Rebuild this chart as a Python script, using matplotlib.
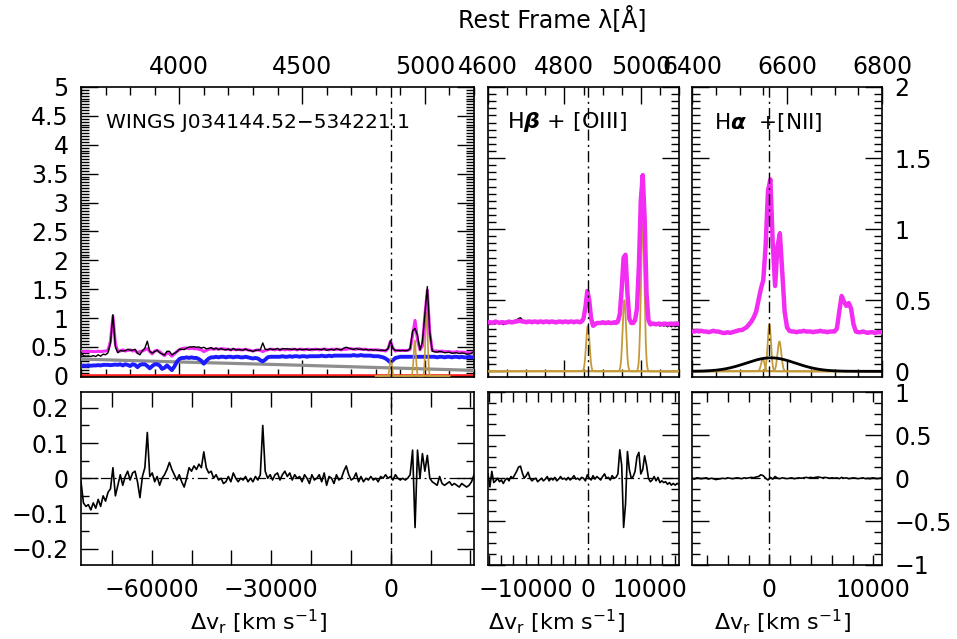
import numpy as np
import matplotlib
matplotlib.use("Agg")
import matplotlib.pyplot as plt
from matplotlib.ticker import MultipleLocator, FuncFormatter

plt.rcParams["font.family"] = ["DejaVu Sans"]
plt.rcParams["mathtext.fontset"] = "dejavusans"
plt.rcParams["mathtext.default"] = "regular"
plt.rcParams["axes.unicode_minus"] = True

C_KMS = 299792.458
HBETA = 4861.33
HALPHA = 6562.80

# ---------------------------------------------------------------- full spectrum
wave_full = np.arange(3600, 5201, 10)
model_full = [
    0.42, 0.42, 0.42, 0.42, 0.425, 0.42, 0.42, 0.425, 0.42, 0.425,
    0.43, 0.44, 0.60, 1.03, 0.55, 0.42, 0.43, 0.45, 0.43, 0.44,
    0.45, 0.43, 0.44, 0.40, 0.42, 0.43, 0.45, 0.47, 0.42, 0.38,
    0.43, 0.44, 0.42, 0.38, 0.35, 0.40, 0.38, 0.34, 0.38, 0.42,
    0.45, 0.47, 0.48, 0.48, 0.47, 0.48, 0.47, 0.47, 0.46, 0.45,
    0.42, 0.44, 0.46, 0.47, 0.46, 0.47, 0.46, 0.47, 0.47, 0.46,
    0.46, 0.45, 0.46, 0.45, 0.46, 0.45, 0.45, 0.46, 0.45, 0.44,
    0.43, 0.44, 0.45, 0.44, 0.42, 0.44, 0.45, 0.46, 0.46, 0.45,
    0.46, 0.45, 0.46, 0.45, 0.46, 0.45, 0.46, 0.46, 0.45, 0.46,
    0.46, 0.45, 0.46, 0.46, 0.45, 0.46, 0.46, 0.45, 0.46, 0.46,
    0.46, 0.45, 0.46, 0.46, 0.46, 0.46, 0.45, 0.46, 0.46, 0.47,
    0.47, 0.46, 0.46, 0.47, 0.46, 0.46, 0.46, 0.45, 0.45, 0.45,
    0.45, 0.45, 0.44, 0.44, 0.43, 0.47, 0.60, 0.48, 0.43, 0.44,
    0.44, 0.44, 0.44, 0.44, 0.46, 0.70, 0.96, 0.62, 0.45, 0.52,
    1.05, 1.48, 0.75, 0.44, 0.43, 0.43, 0.42, 0.43, 0.42, 0.42,
    0.42, 0.41, 0.41, 0.42, 0.41, 0.41, 0.41, 0.40, 0.40, 0.40,
    0.41,
]
resid_full = [
    -0.01, -0.07, -0.08, -0.075, -0.09, -0.07, -0.085, -0.06, -0.08, -0.05,
    -0.065, -0.04, -0.03, 0.03, -0.05, -0.02, 0.01, -0.02, 0.005, 0.02,
    -0.005, 0.015, 0.02, -0.01, -0.055, 0.005, 0.03, 0.13, 0.005, 0.015,
    -0.01, 0.005, -0.02, 0.0, 0.01, 0.025, 0.045, 0.025, 0.01, -0.005,
    0.01, -0.01, -0.025, 0.0, 0.03, 0.02, 0.035, 0.025, 0.04, 0.03,
    0.075, 0.03, 0.015, 0.02, 0.0, 0.01, -0.005, 0.0, -0.015, -0.01,
    0.005, -0.01, 0.015, 0.0, -0.01, 0.0, -0.005, 0.005, -0.01, 0.0,
    -0.01, 0.005, -0.005, 0.01, 0.15, 0.02, 0.0, 0.01, -0.005, 0.01,
    0.015, -0.005, 0.01, 0.02, 0.005, 0.015, -0.005, 0.01, 0.0, 0.005,
    -0.01, 0.01, 0.0, -0.015, 0.01, -0.005, 0.0, 0.01, -0.01, 0.015,
    -0.02, 0.005, 0.0, -0.015, 0.01, -0.005, 0.0, 0.02, 0.035, 0.01,
    -0.005, 0.0, 0.015, -0.01, 0.005, -0.01, 0.0, -0.005, 0.005, -0.005,
    0.0, -0.01, 0.005, 0.0, 0.01, 0.0, 0.005, -0.005, 0.01, 0.0,
    -0.005, 0.0, -0.005, 0.0, 0.01, 0.08, -0.14, 0.08, 0.0, 0.07,
    0.02, 0.065, 0.0, -0.01, -0.015, -0.02, 0.005, -0.015, -0.02, -0.015,
    -0.01, -0.02, -0.015, -0.02, -0.025, -0.015, -0.02, -0.025, -0.02, -0.01,
    0.01,
]
stellar_full = [
    0.17, 0.175, 0.17, 0.18, 0.175, 0.18, 0.18, 0.185, 0.18, 0.19,
    0.19, 0.19, 0.185, 0.19, 0.195, 0.19, 0.20, 0.18, 0.20, 0.19,
    0.17, 0.20, 0.19, 0.15, 0.19, 0.20, 0.20, 0.17, 0.13, 0.17,
    0.20, 0.20, 0.18, 0.12, 0.14, 0.18, 0.14, 0.10, 0.16, 0.24,
    0.29, 0.31, 0.31, 0.32, 0.31, 0.32, 0.31, 0.31, 0.29, 0.26,
    0.21, 0.26, 0.30, 0.32, 0.32, 0.33, 0.32, 0.33, 0.33, 0.32,
    0.33, 0.33, 0.32, 0.33, 0.33, 0.32, 0.32, 0.33, 0.32, 0.31,
    0.30, 0.31, 0.30, 0.27, 0.25, 0.28, 0.32, 0.33, 0.33, 0.33,
    0.33, 0.33, 0.34, 0.33, 0.33, 0.34, 0.33, 0.34, 0.34, 0.33,
    0.34, 0.34, 0.33, 0.34, 0.34, 0.34, 0.34, 0.34, 0.35, 0.34,
    0.34, 0.35, 0.34, 0.35, 0.35, 0.35, 0.35, 0.35, 0.35, 0.35,
    0.35, 0.36, 0.35, 0.35, 0.36, 0.35, 0.35, 0.35, 0.35, 0.34,
    0.34, 0.34, 0.33, 0.32, 0.30, 0.27, 0.23, 0.27, 0.31, 0.32,
    0.33, 0.33, 0.33, 0.33, 0.33, 0.33, 0.33, 0.33, 0.33, 0.33,
    0.33, 0.33, 0.33, 0.33, 0.33, 0.32, 0.33, 0.33, 0.32, 0.33,
    0.33, 0.32, 0.33, 0.33, 0.32, 0.33, 0.32, 0.32, 0.33, 0.32,
    0.32,
]
powerlaw_wave = [3600, 4000, 4400, 4800, 5200]
powerlaw_flux = [0.29, 0.24, 0.195, 0.145, 0.095]
zero_level = 0.0

# narrow emission components: (centre [A], peak, sigma [A])
narrow_full = [(4861.3, 0.30, 4.5), (4958.9, 0.61, 4.5), (5006.8, 1.20, 4.5)]

# ---------------------------------------------------------------- Hbeta + [OIII]
wave_hb = np.arange(4600, 5101, 5)
obs_hb = [
    0.35, 0.33, 0.35, 0.335, 0.335, 0.345, 0.345, 0.34, 0.33, 0.34,
    0.35, 0.34, 0.345, 0.345, 0.355, 0.36, 0.37, 0.375, 0.36, 0.35,
    0.35, 0.355, 0.345, 0.34, 0.345, 0.35, 0.34, 0.345, 0.35, 0.34,
    0.345, 0.355, 0.345, 0.35, 0.345, 0.35, 0.34, 0.345, 0.355, 0.345,
    0.35, 0.345, 0.35, 0.345, 0.35, 0.355, 0.345, 0.35, 0.345, 0.35,
    0.37, 0.44, 0.57, 0.50, 0.37, 0.33, 0.33, 0.345, 0.34, 0.335,
    0.345, 0.35, 0.34, 0.345, 0.335, 0.345, 0.34, 0.345, 0.355, 0.44,
    0.58, 0.76, 0.80, 0.56, 0.38, 0.34, 0.345, 0.37, 0.45, 0.75,
    1.22, 1.38, 1.08, 0.56, 0.37, 0.325, 0.33, 0.34, 0.325, 0.335,
    0.32, 0.33, 0.32, 0.325, 0.315, 0.325, 0.315, 0.32, 0.315, 0.32,
    0.32,
]
model_hb = [
    0.345, 0.345, 0.34, 0.345, 0.35, 0.345, 0.34, 0.345, 0.345, 0.34,
    0.345, 0.35, 0.345, 0.345, 0.35, 0.35, 0.355, 0.355, 0.35, 0.35,
    0.345, 0.35, 0.35, 0.345, 0.35, 0.35, 0.345, 0.35, 0.35, 0.345,
    0.35, 0.35, 0.345, 0.35, 0.35, 0.345, 0.345, 0.35, 0.35, 0.345,
    0.35, 0.35, 0.345, 0.35, 0.35, 0.345, 0.35, 0.35, 0.345, 0.35,
    0.37, 0.45, 0.565, 0.50, 0.37, 0.32, 0.33, 0.34, 0.34, 0.34,
    0.345, 0.34, 0.34, 0.345, 0.34, 0.34, 0.345, 0.34, 0.35, 0.40,
    0.58, 0.80, 0.82, 0.55, 0.37, 0.34, 0.34, 0.36, 0.44, 0.74,
    1.20, 1.38, 1.08, 0.55, 0.36, 0.33, 0.335, 0.335, 0.33, 0.335,
    0.335, 0.33, 0.335, 0.335, 0.33, 0.335, 0.335, 0.33, 0.335, 0.335,
    0.335,
]
resid_hb = [
    0.05, -0.10, 0.08, -0.05, -0.03, 0.0, -0.04, -0.02, -0.06, -0.02,
    0.0, -0.03, 0.02, 0.0, 0.04, 0.08, 0.13, 0.14, 0.06, 0.0,
    0.03, 0.07, 0.0, -0.03, -0.01, 0.0, -0.04, -0.02, 0.0, -0.03,
    -0.01, 0.02, -0.03, 0.0, -0.02, 0.01, -0.03, -0.01, 0.02, -0.01,
    0.0, -0.02, 0.01, -0.02, 0.0, 0.03, -0.01, 0.0, -0.02, 0.01,
    0.0, -0.03, 0.04, 0.0, -0.02, 0.03, -0.01, 0.02, 0.0, -0.02,
    0.02, 0.05, 0.0, 0.01, -0.02, 0.03, 0.0, 0.01, 0.05, 0.33,
    0.15, -0.57, -0.30, 0.31, 0.10, 0.0, 0.02, 0.08, 0.25, 0.30,
    0.05, 0.10, 0.26, 0.15, 0.0, -0.04, -0.02, 0.02, -0.03, 0.01,
    -0.05, -0.03, -0.05, -0.04, -0.07, -0.05, -0.08, -0.06, -0.08, -0.06,
    -0.07,
]
narrow_hb = [(4861.3, 0.32, 4.5), (4957.0, 0.50, 4.5), (5005.0, 1.04, 4.5)]

# ---------------------------------------------------------------- Halpha + [NII]
wave_ha = np.arange(6400, 6801, 5)
obs_ha = [
    0.275, 0.285, 0.28, 0.285, 0.28, 0.28, 0.285, 0.28, 0.275, 0.28,
    0.285, 0.275, 0.28, 0.27, 0.275, 0.27, 0.275, 0.27, 0.28, 0.29,
    0.285, 0.295, 0.30, 0.315, 0.33, 0.355, 0.38, 0.43, 0.51, 0.58,
    0.65, 0.90, 1.26, 1.34, 0.89, 0.61, 0.87, 0.98, 0.69, 0.42,
    0.30, 0.29, 0.28, 0.275, 0.28, 0.285, 0.275, 0.28, 0.285, 0.28,
    0.275, 0.28, 0.285, 0.275, 0.28, 0.285, 0.275, 0.28, 0.275, 0.285,
    0.28, 0.30, 0.43, 0.53, 0.50, 0.46, 0.47, 0.43, 0.33, 0.28,
    0.28, 0.27, 0.275, 0.28, 0.27, 0.275, 0.27, 0.275, 0.27, 0.28,
    0.28,
]
model_ha = [
    0.28, 0.28, 0.285, 0.28, 0.285, 0.28, 0.28, 0.275, 0.28, 0.285,
    0.28, 0.28, 0.275, 0.27, 0.27, 0.275, 0.27, 0.275, 0.28, 0.285,
    0.29, 0.29, 0.30, 0.31, 0.33, 0.35, 0.38, 0.42, 0.50, 0.58,
    0.64, 0.88, 1.27, 1.35, 0.90, 0.60, 0.88, 0.97, 0.70, 0.42,
    0.31, 0.285, 0.28, 0.28, 0.275, 0.28, 0.28, 0.285, 0.28, 0.28,
    0.28, 0.275, 0.28, 0.28, 0.285, 0.28, 0.28, 0.275, 0.28, 0.28,
    0.28, 0.30, 0.42, 0.53, 0.49, 0.46, 0.48, 0.44, 0.33, 0.28,
    0.275, 0.275, 0.28, 0.275, 0.27, 0.275, 0.275, 0.27, 0.275, 0.275,
    0.275,
]
resid_ha = [
    0.0, -0.01, 0.005, 0.0, -0.005, 0.0, 0.005, -0.01, 0.0, -0.005,
    -0.015, -0.01, -0.005, 0.0, -0.005, 0.005, 0.0, -0.005, 0.0, 0.005,
    0.0, -0.005, 0.005, 0.0, 0.005, 0.01, 0.005, 0.015, 0.02, 0.04,
    0.03, 0.0, -0.02, 0.01, -0.01, 0.02, 0.0, -0.005, 0.005, 0.0,
    -0.005, 0.0, 0.005, -0.005, 0.0, 0.005, 0.0, 0.005, 0.01, 0.005,
    0.01, 0.005, 0.01, 0.015, 0.01, 0.005, 0.01, 0.005, 0.0, 0.005,
    0.0, 0.005, -0.005, 0.01, 0.0, 0.005, -0.005, 0.0, 0.005, 0.0,
    -0.005, 0.0, 0.005, -0.005, 0.0, -0.005, 0.005, 0.0, -0.005, 0.0,
    0.005,
]
narrow_ha = [(6549.0, 0.09, 3.5), (6562.8, 0.33, 3.5), (6584.0, 0.21, 4.0)]
broad_ha = (6566.0, 0.095, 52.0)

# ---------------------------------------------------------------- styling
MAGENTA = "#f22cf2"
GOLD = "#c49a3a"
BLUE = "#1c1cff"
GREY = "#8e8e8e"
RED = "#ff1c1c"
DASHDOT = (0, (8, 3, 1.5, 3))
TICK_FS = 17

W, H = 957, 639
fig = plt.figure(figsize=(W / 100, H / 100), dpi=100)


def add_ax(x0, x1, y0, y1):
    return fig.add_axes([x0 / W, 1 - y1 / H, (x1 - x0) / W, (y1 - y0) / H])


def num(v, pos=None):
    if abs(v) < 1e-9:
        return "0"
    return ("%g" % round(v, 6)).replace("-", "\u2212")


def every(step):
    def f(v, pos=None):
        r = round(v / step)
        if abs(v - r * step) < 1e-6 * step:
            return num(v)
        return ""
    return f


def style(ax, xmaj, xmin, ymaj, ymin, xlen=(12, 5.5), ylen=(12, 5.5), xpad=9):
    ax.xaxis.set_major_locator(MultipleLocator(xmaj))
    ax.xaxis.set_minor_locator(MultipleLocator(xmin))
    ax.yaxis.set_major_locator(MultipleLocator(ymaj))
    ax.yaxis.set_minor_locator(MultipleLocator(ymin))
    ax.tick_params(which="both", direction="in", top=True, right=True,
                   width=1.0, labelsize=TICK_FS, colors="black")
    ax.tick_params(axis="x", which="major", length=xlen[0], pad=xpad)
    ax.tick_params(axis="x", which="minor", length=xlen[1])
    ax.tick_params(axis="y", which="major", length=ylen[0], pad=9)
    ax.tick_params(axis="y", which="minor", length=ylen[1])
    for s in ax.spines.values():
        s.set_linewidth(1.2)
    ax.yaxis.set_major_formatter(FuncFormatter(num))
    ax.xaxis.set_major_formatter(FuncFormatter(num))


def gauss_curve(lo, hi, cen, amp, sig, n=1500):
    x = np.linspace(lo, hi, n)
    return x, amp * np.exp(-0.5 * ((x - cen) / sig) ** 2)


def to_vel(w, w0):
    return C_KMS * (np.asarray(w, dtype=float) / w0 - 1.0)


top_y0, top_y1 = 87, 377
bot_y0, bot_y1 = 392, 564.5
ax_tl = add_ax(81, 474, top_y0, top_y1)
ax_tm = add_ax(488, 679, top_y0, top_y1)
ax_tr = add_ax(692, 882, top_y0, top_y1)
ax_bl = add_ax(81, 474, bot_y0, bot_y1)
ax_bm = add_ax(488, 679, bot_y0, bot_y1)
ax_br = add_ax(692, 882, bot_y0, bot_y1)

TOP_PAD = 6.0
BOT_PAD = 9.5

# ---------------- top-left: full spectrum with fitted components
lo, hi = 3600, 5200
ax_tl.axhline(zero_level, color=RED, lw=2.6, zorder=2)
ax_tl.plot(powerlaw_wave, powerlaw_flux, color=GREY, lw=2.3, zorder=3)
ax_tl.plot(wave_full, stellar_full, color=BLUE, lw=2.8, zorder=3)
for cen, amp, sig in narrow_full:
    x, y = gauss_curve(4800, 5100, cen, amp, sig)
    ax_tl.plot(x, y, color=GOLD, lw=1.2, zorder=4)
obs_full = np.asarray(model_full) + np.asarray(resid_full)
ax_tl.plot(wave_full, model_full, color=MAGENTA, lw=2.2, zorder=5)
ax_tl.plot(wave_full, obs_full, color="black", lw=1.0, zorder=6)
ax_tl.axvline(HBETA, color="black", lw=1.0, ls=DASHDOT, zorder=7)
ax_tl.set_xlim(lo, hi)
ax_tl.set_ylim(-0.02, 5)
style(ax_tl, 500, 100, 0.5, 0.05, xlen=(12, 6), xpad=TOP_PAD)
ax_tl.tick_params(labeltop=True, labelbottom=False)

# ---------------- top-middle: Hbeta + [OIII]
lo, hi = 4600, 5100
for cen, amp, sig in narrow_hb:
    x, y = gauss_curve(lo, hi, cen, amp, sig)
    ax_tm.plot(x, y, color=GOLD, lw=1.3, zorder=3)
ax_tm.plot(wave_hb, obs_hb, color="black", lw=1.3, zorder=4)
ax_tm.plot(wave_hb, model_hb, color=MAGENTA, lw=3.2, zorder=5)
ax_tm.axvline(HBETA, color="black", lw=1.0, ls=DASHDOT, zorder=7)
ax_tm.set_xlim(lo, hi)
ax_tm.set_ylim(-0.04, 2)
style(ax_tm, 200, 50, 0.5, 0.05, xlen=(12, 6), xpad=TOP_PAD)
ax_tm.tick_params(labeltop=True, labelbottom=False, labelleft=False)

# ---------------- top-right: Halpha + [NII]
lo, hi = 6400, 6800
for cen, amp, sig in narrow_ha:
    x, y = gauss_curve(lo, hi, cen, amp, sig)
    ax_tr.plot(x, y, color=GOLD, lw=1.3, zorder=3)
x, y = gauss_curve(lo, hi, *broad_ha)
ax_tr.plot(x, y, color="black", lw=2.0, zorder=3)
ax_tr.plot(wave_ha, obs_ha, color="black", lw=1.3, zorder=4)
ax_tr.plot(wave_ha, model_ha, color=MAGENTA, lw=3.2, zorder=5)
ax_tr.axvline(HALPHA, color="black", lw=1.0, ls=DASHDOT, zorder=7)
ax_tr.set_xlim(lo, hi)
ax_tr.set_ylim(-0.04, 2)
style(ax_tr, 200, 50, 0.5, 0.05, xlen=(12, 6), xpad=TOP_PAD)
ax_tr.tick_params(labeltop=True, labelbottom=False, labelleft=False,
                  labelright=True)


# ---------------- residual panels
def residual(ax, wave, res, w0, wlo, whi, xstep, lblstep, ylim, ymaj, ymin):
    ax.axhline(0, color="black", lw=0.9, ls=DASHDOT, zorder=2)
    ax.plot(to_vel(wave, w0), res, color="black", lw=1.2, zorder=3)
    ax.axvline(0, color="black", lw=1.0, ls=DASHDOT, zorder=4)
    ax.set_xlim(to_vel(wlo, w0), to_vel(whi, w0))
    ax.set_ylim(*ylim)
    style(ax, xstep, xstep, ymaj, ymin, xlen=(7, 0), ylen=(12, 6),
          xpad=BOT_PAD)
    ax.xaxis.set_major_formatter(FuncFormatter(every(lblstep)))


residual(ax_bl, wave_full, resid_full, HBETA, 3600, 5200, 10000, 30000,
         (-0.245, 0.245), 0.1, 0.05)
ax_bl.tick_params(axis="x", which="major", length=11)
residual(ax_bm, wave_hb, resid_hb, HBETA, 4600, 5100, 2000, 10000,
         (-1, 1), 0.5, 0.125)
ax_bm.tick_params(labelleft=False)
residual(ax_br, wave_ha, resid_ha, HALPHA, 6400, 6800, 2000, 10000,
         (-1, 1), 0.5, 0.125)
ax_br.tick_params(labelleft=False, labelright=True)

# ---------------- annotations
fig.text(552 / W, 1 - 19 / H, "Rest Frame \u03bb[\u00c5]", fontsize=17,
         ha="center", va="center")
fig.text(106 / W, 1 - 122 / H, "WINGS J034144.52\u2212534221.1", fontsize=14.5,
         ha="left", va="center")
fig.text(507 / W, 1 - 122 / H, r"H$\boldsymbol{\beta}$ + [OIII]", fontsize=16,
         ha="left", va="center")
fig.text(714 / W, 1 - 122 / H, r"H$\boldsymbol{\alpha}$  +[NII]", fontsize=15.5,
         ha="left", va="center")
xlabel = "\u0394v$_{\\rm r}$ [km s$^{-1}$]"
for xc in (259, 557, 783):
    fig.text(xc / W, 1 - 622 / H, xlabel, fontsize=16, ha="center", va="center")

fig.savefig("out.png", dpi=100, facecolor="white")
